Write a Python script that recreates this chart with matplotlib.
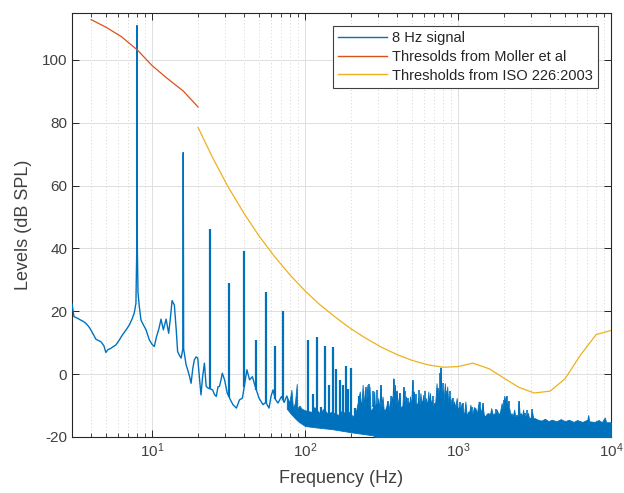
import numpy as np
import matplotlib.pyplot as plt
from matplotlib.ticker import LogLocator, FixedLocator
from matplotlib.lines import Line2D

plt.rcParams['font.family'] = ['Liberation Sans', 'DejaVu Sans']
plt.rcParams['axes.unicode_minus'] = False

# 8 Hz signal, low-frequency part read as a line
sig_f = [3.0, 3.09, 3.25, 3.42, 3.55, 3.69, 3.85, 3.98, 4.15, 4.3, 4.64, 4.85, 4.99,
         5.15, 5.38, 5.6, 5.81, 6.1, 6.41, 6.75, 7.1, 7.4, 7.65, 7.85, 7.95, 7.98,
         8.02, 8.1, 8.26, 8.47, 8.8, 9.14, 9.6, 10.0, 10.35, 10.7, 11.1, 11.45, 11.86,
         12.36, 12.85, 13.2, 13.52, 14.0, 14.4, 14.7, 15.1, 15.5, 15.9, 16.0, 16.1,
         16.7, 17.2, 17.6, 18.0, 18.5, 18.9, 19.4, 19.9, 20.4, 20.9, 21.4, 22.0, 22.6,
         23.2, 24.9, 25.6, 26.3, 27.0, 27.6, 28.2, 28.8, 29.8, 31.0, 32.8, 33.8, 35.6,
         37.3, 39.0, 41.7, 43.4, 45.3, 46.9, 50.0, 53.1, 55.5, 58.2, 60.0, 61.8, 64.0,
         66.6, 70.2, 73.0, 76.0]
sig_L = [22.3, 18.3, 17.8, 17.2, 16.8, 16.2, 15.2, 14.1, 12.5, 11.1, 10.3, 9.0, 6.9,
         7.8, 8.2, 8.8, 9.3, 10.8, 12.5, 14.0, 15.6, 17.5, 19.4, 22.5, 40.0, 110.9,
         40.0, 26.0, 21.5, 17.2, 15.6, 14.1, 10.9, 9.5, 8.8, 11.9, 14.5, 17.5, 14.1,
         17.5, 13.0, 18.0, 23.4, 22.0, 14.0, 7.2, 6.0, 5.1, 8.0, 70.5, 8.0,
         3.0, 1.0, -0.8, -2.9, 2.0, 4.5, 5.5, 5.1, -1.0, -6.6, -1.0, 3.5, -3.9,
         -4.4, -5.0, -6.5, -7.1, -4.0, -3.9, -2.0, 0.3, -1.8, -6.0, -8.5, -9.7, -10.8,
         -8.2, -7.6, 1.4, -1.8, -0.8, -3.4, -7.6, -9.7, -9.0, -10.8, -7.0, -5.0, -8.0,
         -9.2, -7.1, -9.0, -7.0]

# dense noise above ~76 Hz: jagged top of the filled mass
noise_f = [76, 79, 81.5, 83.5, 86, 88.3, 89, 92, 95, 100, 110, 115, 125, 132, 140,
           150, 165, 175, 185, 195, 205, 215, 228, 233, 238, 242, 246, 250, 255.6, 259,
           263.9, 268, 272.8, 278, 283.3, 287, 291.4, 296, 301, 306, 312, 316, 321,
           327, 333, 339, 345, 352, 359, 364, 368, 372, 377, 382, 387, 391, 396, 404,
           413, 420, 428, 433, 439, 448, 457, 465, 474, 480, 485, 493, 502, 508, 515,
           525, 535, 541, 548, 558, 568, 580, 592, 604, 616, 628, 640, 648, 656, 664,
           672, 684, 696, 710, 724, 735, 746, 757, 769, 780, 792, 805, 820, 835, 850,
           863, 877, 892, 908, 925, 941, 960, 980, 997, 1015, 1035, 1057, 1075, 1095,
           1117, 1140, 1164, 1187, 1205, 1225, 1247, 1270, 1298, 1330, 1364, 1380,
           1398, 1420, 1448, 1475, 1507, 1545, 1584, 1615, 1648, 1690, 1731, 1760,
           1793, 1840, 1883, 1929, 1965, 2005, 2025, 2045, 2075, 2107, 2130, 2160,
           2200, 2236, 2280, 2328, 2370, 2410, 2450, 2496, 2530, 2572, 2620, 2663,
           2710, 2757, 2810, 2869, 2910, 2956, 3000, 3046, 3100, 3169, 3329, 3500,
           3700, 3900, 4100, 4400, 4700, 5000, 5300, 5700, 6000, 6500, 7000, 7100,
           7200, 7800, 8300, 8700, 9100, 9300, 10000]
noise_L = [-7.0, -9.0, -5.0, -11.0, -9.0, -3.1, -11.0, -10.0, -11.0, -11.5, -12.0,
           -10.5, -12.5, -11.0, -12.5, -12.0, -13.0, -11.5, -13.0, -12.0, -13.5, -12.0,
           -5.5, -11.0, -3.4, -10.5, -5.0, -10.5, -3.4, -10.0, -3.9, -11.5, -11.3, -10.5,
           -5.5, -11.5, -9.2, -10.5, -7.6, -11.5, -3.4, -10.5, -7.1, -11.5, -11.3, -10.5,
           -8.7, -11.5, -8.7, -10.5, -7.1, -10.5, -1.3, -9.0, -3.4, -9.5, -5.5, -10.0,
           -6.0, -10.5, -10.3, -10.0, -4.5, -10.0, -7.1, -10.5, -8.7, -10.5, -7.1, -10.5,
           -2.3, -9.0, -5.5, -10.5, -9.2, -10.5, -7.6, -10.5, -6.0, -10.0, -6.6, -10.5,
           -7.6, -10.0, -5.5, -10.0, -6.0, -10.5, -8.2, -11.0, -9.2, -9.0, -2.9, -8.5,
           -5.0, -7.5, 2.2, -8.0, -5.0, -8.5, -2.9, -8.5, -3.9, -9.0, -7.1, -10.0, -7.6,
           -10.5, -8.7, -10.5, -7.6, -11.5, -10.3, -11.0, -9.2, -12.0, -12.9, -8.7, -13.4,
           -11.9, -11.9, -9.7, -12.5, -12.4, -10.5, -10.8, -12.5, -8.7, -12.0, -10.8,
           -12.5, -9.7, -13.0, -13.4, -12.5, -12.4, -13.0, -10.8, -13.0, -12.4, -13.0,
           -11.3, -13.0, -11.9, -9.2, -12.0, -6.9, -10.0, -7.1, -11.0, -8.7, -12.0,
           -10.8, -13.0, -12.4, -13.5, -11.3, -13.5, -12.9, -13.5, -8.7, -13.0, -12.4,
           -13.5, -11.3, -13.5, -13.4, -13.0, -12.4, -14.0, -14.0, -13.5, -11.9, -14.0,
           -14.0, -14.5, -14.8, -14.2, -15.0, -14.5, -15.0, -14.3, -15.0, -14.5, -15.2,
           -14.6, -15.2, -14.5, -13.0, -15.0, -15.2, -14.6, -15.3, -13.8, -15.3, -15.3]

# ragged lower edge of the noise (white gaps below it up to ~300 Hz)
floor_f = [76, 82, 90, 100, 120, 150, 200, 280, 300, 10000]
floor_L = [-11.0, -13.0, -15.0, -16.5, -17.0, -17.5, -18.5, -19.5, -21.0, -21.0]

# harmonics of 8 Hz and other low-frequency peaks
harm_f = [24, 32, 40, 48, 56, 64, 72, 104, 112, 120, 128, 136, 144, 152, 160,
          169, 178, 184, 192, 200, 212, 225]
harm_L = [46.3, 29.1, 39.1, 10.9, 26.0, 9.1, 20.1, 10.8, -6.3, 11.8, -10.3,
          9.0, -3.4, 8.5, 1.5, -1.8, -3.6, 2.6, -4.8, 2.1, -10.7, -7.1]

# thin tips of the noise peaks
peak_f = [251, 261, 280, 297, 314, 348, 363, 379, 398, 419, 441, 452, 472, 507, 532,
          560, 581, 610, 686, 735, 757, 777, 803, 845, 887, 933, 1030, 1085, 1230,
          1390, 1450, 1780, 1990, 2080, 2150, 2510, 2720, 2830, 3060]
peak_L = [-4.2, -3.2, -5.5, -5.2, -3.4, -8.4, -6.9, -1.6, -5.5, -6.1, -4.2, -5.5,
          -7.6, -2.0, -6.4, -5.1, -8.4, -5.3, -7.0, -4.5, 0.3, 2.1, -2.9, -5.3, -5.3,
          -7.6, -8.8, -9.3, -10.6, -9.0, -9.2, -11.0, -8.2, -7.1, -8.7, -8.7, -12.4,
          -11.3, -11.0]

# Moller et al thresholds
moller_f = [4, 5, 6.3, 8, 10, 12.5, 16, 20]
moller_L = [112.8, 110.4, 107.4, 103.2, 98.2, 94.2, 90.1, 85.0]

# ISO 226:2003 hearing thresholds
iso_f = [20, 25, 31.5, 40, 50, 63, 80, 100, 125, 160, 200, 250, 315, 400, 500, 630,
         800, 1000, 1250, 1600, 2000, 2500, 3150, 4000, 5000, 6300, 8000, 10000]
iso_L = [78.5, 68.7, 59.5, 51.1, 44.0, 37.5, 31.5, 26.5, 22.1, 17.9, 14.4, 11.4, 8.6,
         6.2, 4.4, 3.0, 2.2, 2.4, 3.5, 1.7, -1.3, -4.2, -6.0, -5.4, -1.5, 6.0, 12.6, 13.9]

blue = '#0072BD'
red = '#D95319'
yellow = '#EDB120'
dark = '#262626'
txt = '#404040'

fig = plt.figure(figsize=(6.24, 4.93), dpi=100)
ax = fig.add_axes([0.1154, 0.1136, 0.8638, 0.8606])

# noise mass
lo = np.interp(np.log10(noise_f), np.log10(floor_f), floor_L)
ax.fill_between(noise_f, lo, noise_L, color=blue, lw=0.6, edgecolor=blue, zorder=3)


def base_of(freqs):
    # level of the curve under each peak
    lf = np.log10(freqs)
    under_line = np.interp(lf, np.log10(sig_f), sig_L)
    under_noise = np.interp(lf, np.log10(noise_f), noise_L) - 2
    return np.where(np.array(freqs) >= noise_f[0], under_noise, under_line)


ax.vlines(harm_f, base_of(harm_f), harm_L, color=blue, lw=1.6, zorder=3)
ax.vlines(peak_f, base_of(peak_f), peak_L, color=blue, lw=1.2, zorder=3)
ax.plot(sig_f, sig_L, color=blue, lw=1.0, zorder=3)

ax.plot(moller_f, moller_L, color=red, lw=0.9, zorder=4)
ax.plot(iso_f, iso_L, color=yellow, lw=0.9, zorder=4)

ax.set_xscale('log')
ax.set_xlim(3, 10000)
ax.set_ylim(-20, 115)
ax.yaxis.set_major_locator(FixedLocator([-20, 0, 20, 40, 60, 80, 100]))
ax.xaxis.set_major_locator(LogLocator(base=10, numticks=10))
ax.xaxis.set_minor_locator(LogLocator(base=10, subs=np.arange(2, 10), numticks=20))

ax.grid(True, which='major', color='#dedede', lw=0.7, linestyle='-')
ax.grid(True, which='minor', axis='x', color='#c8c8c8', lw=0.6, linestyle=(0, (1, 3)))
ax.set_axisbelow(True)

ax.tick_params(which='both', direction='in', top=True, right=True, colors=dark,
               labelcolor=txt, labelsize=11)
ax.tick_params(which='major', length=5, width=0.7)
ax.tick_params(which='minor', length=3, width=0.6)
for s in ax.spines.values():
    s.set_color(dark)
    s.set_linewidth(0.8)

ax.set_xlabel('Frequency (Hz)', fontsize=13, color=txt, labelpad=7)
ax.set_ylabel('Levels (dB SPL)', fontsize=13, color=txt, labelpad=7)

handles = [Line2D([], [], color=blue, lw=1.0),
           Line2D([], [], color=red, lw=1.0),
           Line2D([], [], color=yellow, lw=1.0)]
labels = ['8 Hz signal', 'Thresolds from Moller et al', 'Thresholds from ISO 226:2003']
leg = ax.legend(handles, labels, loc='upper right', bbox_to_anchor=(0.975, 0.969),
                borderaxespad=0, fontsize=10.5, handlelength=3.4, handletextpad=0.3,
                labelspacing=0.33, fancybox=False, framealpha=1, borderpad=0.35)
leg.get_frame().set_edgecolor(txt)
leg.get_frame().set_linewidth(0.8)
for t in leg.get_texts():
    t.set_color(dark)

fig.savefig('out.png', dpi=100)
